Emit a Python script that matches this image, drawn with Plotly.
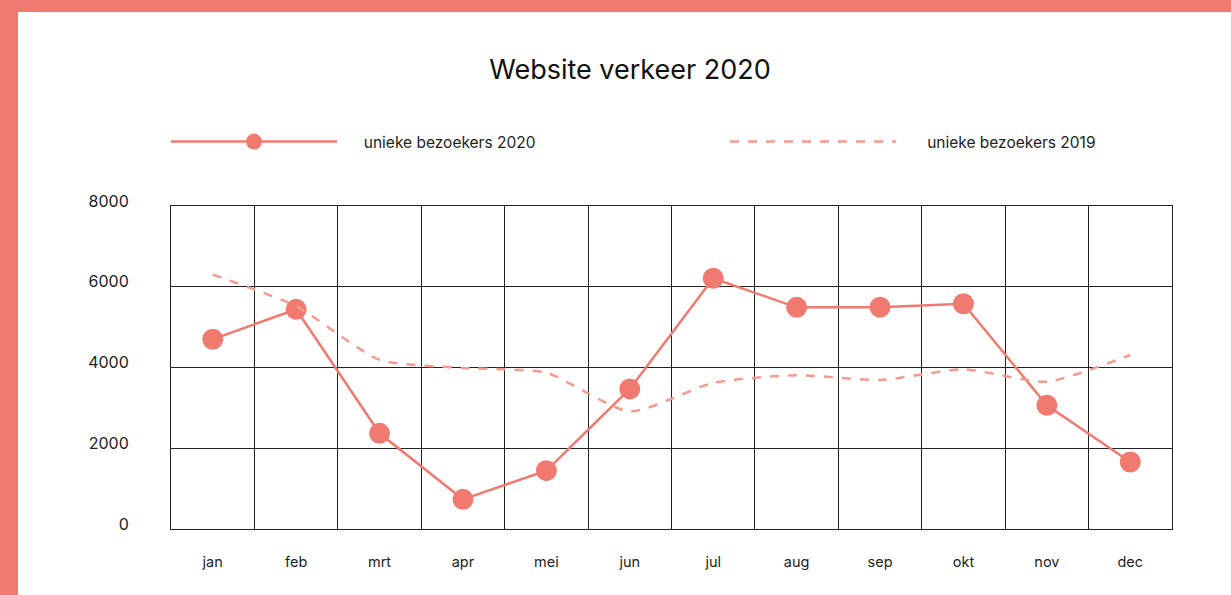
import plotly.graph_objects as go

# Data
maanden = ["jan", "feb", "mrt", "apr", "mei", "jun", "jul", "aug", "sep", "okt", "nov", "dec"]
bezoekers_2020 = [4700, 5440, 2370, 735, 1445, 3470, 6210, 5490, 5495, 5580, 3065, 1660]
bezoekers_2019 = [6300, 5520, 4190, 3990, 3870, 2910, 3620, 3810, 3690, 3955, 3650, 4310]
y_ticks = [0, 2000, 4000, 6000, 8000]

SALMON = "#f07a6f"
SALMON_LIGHT = "#f59a8e"
FONT = "Inter"

W, H = 1231, 595
L, R, T, B = 171, 59, 206, 66
pw, ph = W - L - R, H - T - B

fig = go.Figure()

fig.add_trace(go.Scatter(
    x=maanden,
    y=bezoekers_2020,
    name="\u00a0" * 5 + "unieke bezoekers 2020",
    mode="lines+markers",
    line=dict(color=SALMON, width=2.5),
    marker=dict(color=SALMON, size=21),
    legend="legend",
))

fig.add_trace(go.Scatter(
    x=maanden,
    y=bezoekers_2019,
    name="\u00a0" * 6 + "unieke bezoekers 2019",
    mode="lines",
    line=dict(color=SALMON_LIGHT, width=2.5, dash="dash", shape="spline", smoothing=0.6),
    legend="legend2",
))

# salmon frame at top and left of the page
fig.add_shape(type="rect", xref="paper", yref="paper",
              x0=-L / pw, x1=(W - L) / pw, y0=(H - B - 12) / ph, y1=(H - B) / ph,
              fillcolor=SALMON, line_width=0, layer="below")
fig.add_shape(type="rect", xref="paper", yref="paper",
              x0=-L / pw, x1=(18 - L) / pw, y0=-B / ph, y1=(H - B) / ph,
              fillcolor=SALMON, line_width=0, layer="below")

legend_style = dict(
    orientation="h",
    xref="paper", yref="paper",
    y=(H - B - 142) / ph,
    xanchor="left", yanchor="middle",
    itemwidth=166,
    font=dict(family=FONT, size=15.5, color="#222222"),
    bgcolor="rgba(0,0,0,0)",
)

fig.update_layout(
    width=W,
    height=H,
    margin=dict(l=L, r=R, t=T, b=B),
    paper_bgcolor="white",
    plot_bgcolor="white",
    font=dict(family=FONT, size=14, color="#222222"),
    title=dict(
        text="Website verkeer 2020",
        font=dict(family=FONT, size=27, color="#111111"),
        xref="container", yref="container",
        x=630 / W, y=1 - 70 / H,
        xanchor="center", yanchor="middle",
    ),
    legend=dict(legend_style, x=-5 / pw),
    legend2=dict(legend_style, x=(730 - L - 5) / pw),
    showlegend=True,
)

fig.update_xaxes(
    type="category",
    range=[-0.5, 11.5],
    tickson="boundaries",
    showgrid=True,
    gridcolor="#222222",
    gridwidth=1,
    showline=True,
    linecolor="#222222",
    linewidth=1,
    mirror=True,
    ticks="",
    ticklabelstandoff=20,
    tickfont=dict(family=FONT, size=14.5, color="#222222"),
)

fig.update_yaxes(
    range=[0, 8000],
    tickvals=y_ticks,
    ticktext=[str(v) for v in y_ticks],
    showgrid=True,
    gridcolor="#222222",
    gridwidth=1,
    zeroline=False,
    showline=True,
    linecolor="#222222",
    linewidth=1,
    mirror=True,
    ticks="",
    ticklabelstandoff=38,
    ticklabelshift=-5,
    tickfont=dict(family=FONT, size=16, color="#222222"),
)

fig.write_html("out.html", config={"displayModeBar": False},
               post_script="document.body.style.margin='0';")
